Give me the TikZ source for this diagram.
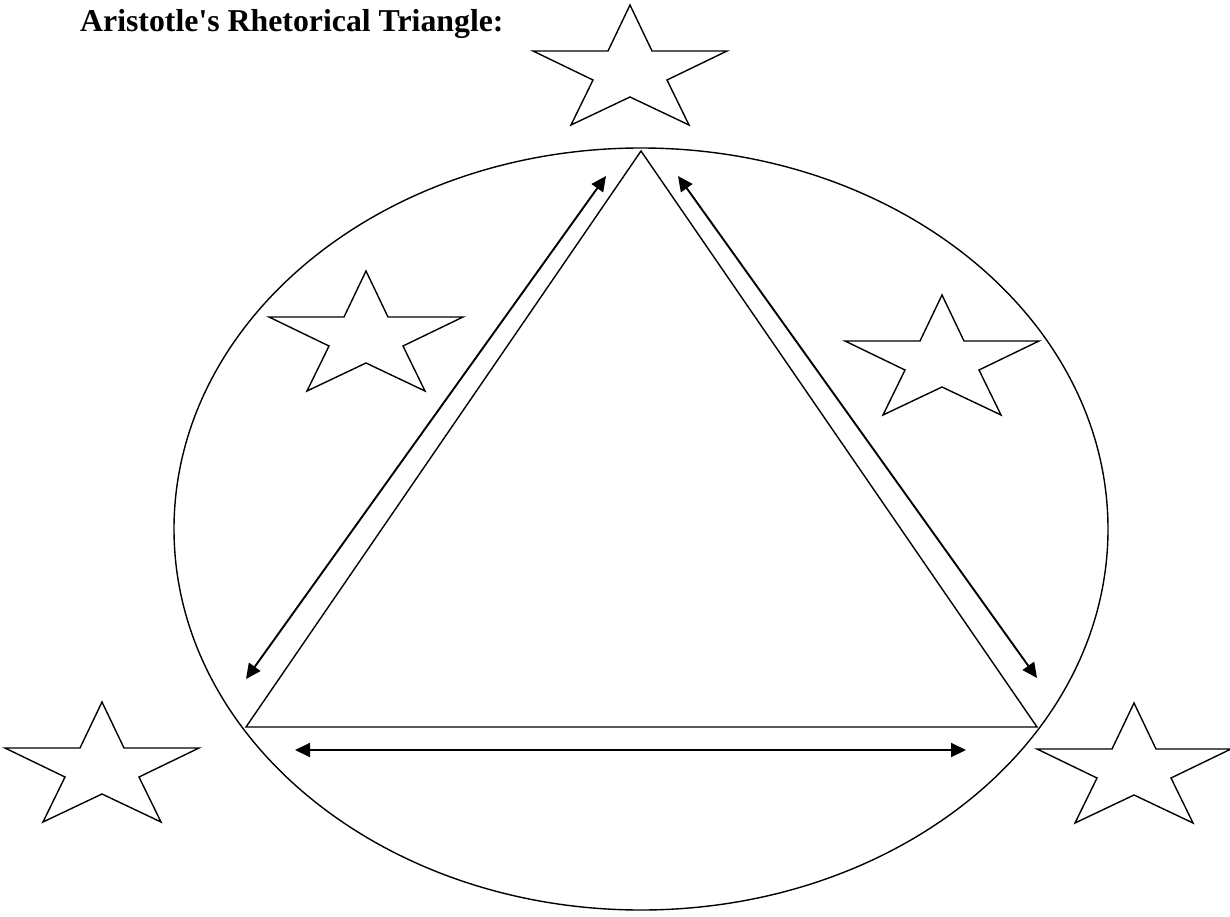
\documentclass[tikz,border=0pt]{standalone}
\usepackage{fontspec}
\newfontfamily\titlefont{Liberation Serif}
\usetikzlibrary{arrows.meta,shapes.geometric}
\tikzset{
  shapeline/.style={draw=black, line width=1.4pt, line join=miter},
  dblarrow/.style={draw=black, line width=1.9pt, {Triangle[length=15pt,width=14pt]}-{Triangle[length=15pt,width=14pt]}},
  starshape/.pic={
    \draw[shapeline] (0,0) -- (22,46) -- (97,46) -- (37,75) -- (59,120) -- (0,92)
      -- (-59,120) -- (-37,75) -- (-97,46) -- (-22,46) -- cycle;
  }
}
\begin{document}
\begin{tikzpicture}[x=1pt,y=-1pt]
\useasboundingbox (0,0) rectangle (1230,917);
% title
\node[anchor=base west, inner sep=0, font=\titlefont\bfseries\fontsize{31.8}{32}\selectfont] (title) at (80,32) {Aristotle's Rhetorical Triangle:};
% oval
\node[shapeline, ellipse, minimum width=934pt, minimum height=762pt, inner sep=0] (oval) at (641,529) {};
% triangle
\coordinate (apex) at (641,151);
\coordinate (bl) at (246,727);
\coordinate (br) at (1037,727);
\draw[shapeline] (apex) -- (bl) -- (br) -- cycle;
% arrows
\coordinate (la1) at (246,679);
\coordinate (la2) at (606,176);
\coordinate (ra1) at (678,176);
\coordinate (ra2) at (1037,678);
\coordinate (ba1) at (295,750);
\coordinate (ba2) at (966,750);
\draw[dblarrow] (la1) -- (la2);
\draw[dblarrow] (ra1) -- (ra2);
\draw[dblarrow] (ba1) -- (ba2);
% stars
\pic (startop) at (630,5) {starshape};
\pic (starleft) at (366,271) {starshape};
\pic (starright) at (942,295) {starshape};
\pic (starbl) at (102,702) {starshape};
\pic (starbr) at (1134,703) {starshape};
\end{tikzpicture}
\end{document}
